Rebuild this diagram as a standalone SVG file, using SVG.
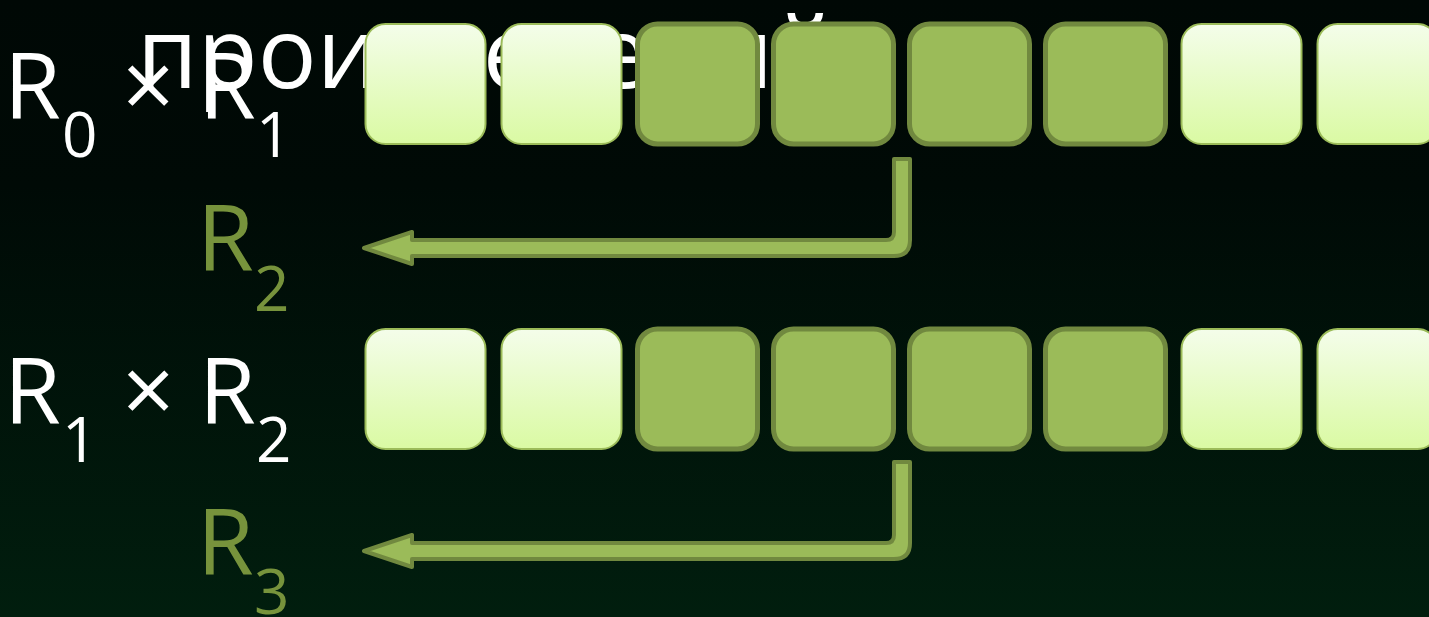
<svg xmlns="http://www.w3.org/2000/svg" width="1429" height="617" viewBox="0 0 1429 617">
<defs>
<linearGradient id="bg" x1="0" y1="0" x2="0" y2="1">
<stop offset="0" stop-color="#000805"/>
<stop offset="0.3" stop-color="#000a06"/>
<stop offset="1" stop-color="#011e0e"/>
</linearGradient>
<linearGradient id="lt" x1="0" y1="0" x2="0" y2="1">
<stop offset="0" stop-color="#f4fdea"/>
<stop offset="1" stop-color="#dafaa3"/>
</linearGradient>
<path id="arrow" d="M364,248 L412,232 L412,240 L886,240 Q894,240 894,232 L894,159 L910,159 L910,240 Q910,256 894,256 L412,256 L412,264 Z"/>
</defs>
<style>
.t{font-family:"Open Sans","DejaVu Sans",sans-serif;fill:#ffffff}
.g{font-family:"Open Sans","DejaVu Sans",sans-serif;fill:#77933c}
.m{font-size:92px}
.s{font-size:62px}
.light{fill:url(#lt);stroke:#9bbb59;stroke-width:2}
.dark{fill:#9bbb59;stroke:#71893f;stroke-width:5}
.arr{fill:#9bbb59;stroke:#71893f;stroke-width:4;stroke-linejoin:round}
</style>
<rect width="1429" height="617" fill="url(#bg)"/>
<text class="t" x="137" y="88" font-size="98">произведений</text>
<g id="label-r0r1">
<text class="t m" x="4" y="118">R</text>
<text class="t s" x="62" y="157">0</text>
<text class="t m" x="122" y="118">×</text>
<text class="t m" x="199" y="118">R</text>
<text class="t s" x="256" y="157">1</text>
</g>
<g id="row1">
<rect class="light" x="365.5" y="24" width="120" height="120" rx="20"/>
<rect class="light" x="501.5" y="24" width="120" height="120" rx="20"/>
<rect class="dark" x="637.5" y="24" width="120" height="120" rx="20"/>
<rect class="dark" x="773.5" y="24" width="120" height="120" rx="20"/>
<rect class="dark" x="909.5" y="24" width="120" height="120" rx="20"/>
<rect class="dark" x="1045.5" y="24" width="120" height="120" rx="20"/>
<rect class="light" x="1181.5" y="24" width="120" height="120" rx="20"/>
<rect class="light" x="1317.5" y="24" width="120" height="120" rx="20"/>
</g>
<g id="label-r2">
<text class="g m" x="197" y="270">R</text>
<text class="g s" x="254" y="311">2</text>
</g>
<g id="label-r1r2">
<text class="t m" x="4" y="423">R</text>
<text class="t s" x="62" y="462">1</text>
<text class="t m" x="122" y="423">×</text>
<text class="t m" x="199" y="423">R</text>
<text class="t s" x="256" y="462">2</text>
</g>
<g id="row2" transform="translate(0,305)">
<rect class="light" x="365.5" y="24" width="120" height="120" rx="20"/>
<rect class="light" x="501.5" y="24" width="120" height="120" rx="20"/>
<rect class="dark" x="637.5" y="24" width="120" height="120" rx="20"/>
<rect class="dark" x="773.5" y="24" width="120" height="120" rx="20"/>
<rect class="dark" x="909.5" y="24" width="120" height="120" rx="20"/>
<rect class="dark" x="1045.5" y="24" width="120" height="120" rx="20"/>
<rect class="light" x="1181.5" y="24" width="120" height="120" rx="20"/>
<rect class="light" x="1317.5" y="24" width="120" height="120" rx="20"/>
</g>
<g id="label-r3">
<text class="g m" x="197" y="574">R</text>
<text class="g s" x="254" y="614">3</text>
</g>
<g id="connectors">
<use href="#arrow" class="arr"/>
<use href="#arrow" class="arr" transform="translate(0,303)"/>
</g>
</svg>
